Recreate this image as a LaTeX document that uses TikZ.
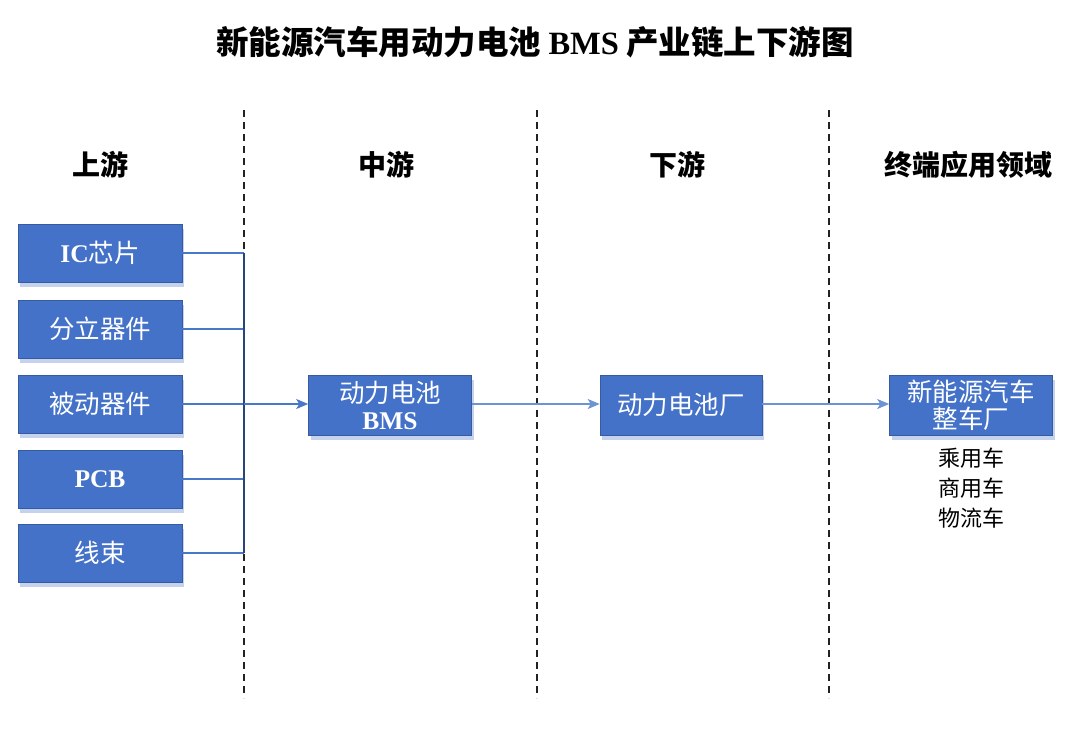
\documentclass[tikz,border=0pt]{standalone}
\usepackage{fontspec}
\setmainfont{Liberation Serif}
\newfontfamily\cjk{Noto Sans CJK SC}
\newfontfamily\lat{Liberation Serif}
\usetikzlibrary{shadows,arrows.meta}
\definecolor{boxblue}{HTML}{4472C8}
\definecolor{shadowblue}{HTML}{C4D2EE}
\definecolor{linkblue}{HTML}{4A78C8}
\definecolor{dashgray}{HTML}{222222}
\tikzset{
  bluebox/.style={draw=boxblue!80!black, line width=0.6pt, fill=boxblue, text=white,
    minimum width=164pt, minimum height=58pt, inner sep=0pt, align=center,
    font=\cjk\fontsize{25.5}{30}\selectfont,
    drop shadow={shadow xshift=2pt, shadow yshift=-5pt, fill=shadowblue, opacity=1}},
  sep/.style={dashgray, line width=1.2pt, dash pattern=on 7pt off 5pt},
  head/.style={font=\cjk\bfseries\fontsize{28}{32}\selectfont, text=black},
  feed/.style={linkblue, line width=1.3pt},
  flow/.style={linkblue!80, line width=1.4pt, -{Stealth[length=12pt,width=10pt,inset=3pt]}},
  sub/.style={font=\cjk\fontsize{22}{26}\selectfont, text=black}
}
\begin{document}
\begin{tikzpicture}[x=1pt,y=-1pt]
\useasboundingbox[fill=white] (0,0) rectangle (1080,729);
% title
\node[font=\cjk\bfseries\fontsize{32.5}{38}\selectfont] (title) at (535,42) {新能源汽车用动力电池 {\lat\bfseries BMS} 产业链上下游图};
% separators
\draw[sep] (244,110) -- (244,698);
\draw[sep] (537,110) -- (537,698);
\draw[sep] (829,110) -- (829,698);
% headers
\node[head] (h1) at (100,165) {上游};
\node[head] (h2) at (386,165) {中游};
\node[head] (h3) at (677,165) {下游};
\node[head] (h4) at (968,165) {终端应用领域};
% upstream boxes
\node[bluebox] (u1) at (100,253) {{\lat\bfseries IC}芯片};
\node[bluebox] (u2) at (100,329) {分立器件};
\node[bluebox] (u3) at (100,404) {被动器件};
\node[bluebox] (u4) at (100,479) {{\lat\bfseries PCB}};
\node[bluebox] (u5) at (100,553) {线束};
% mid boxes
\node[bluebox, minimum width=163pt, minimum height=60pt] (bms) at (390,405) {动力电池\\[-3pt]{\lat\bfseries BMS}};
\node[bluebox, minimum width=162pt, minimum height=60pt] (cell) at (681,405) {动力电池厂};
\node[bluebox, minimum width=163pt, minimum height=60pt] (oem) at (971,405) {新能源汽车\\[-3pt]整车厂};
% bus
\coordinate (b1) at (244,253);
\coordinate (b3) at (244,404);
\coordinate (b5) at (244,553);
\draw[feed] (u1.east) -- (b1);
\draw[feed] (u2.east) -- (244,329);
\draw[feed] (u3.east) -- (b3);
\draw[feed] (u4.east) -- (244,479);
\draw[feed] (u5.east) -- (b5);
\draw[feed, draw=boxblue!60!black] (b1) -- (b5);
\draw[flow, linkblue] (b3) -- (bms.west |- b3);
\draw[flow] (bms.east |- b3) -- (cell.west |- b3);
\draw[flow] (cell.east |- b3) -- (oem.west |- b3);
% end uses
\node[sub] (e1) at (971,458) {乘用车};
\node[sub] (e2) at (971,488) {商用车};
\node[sub] (e3) at (971,518) {物流车};
\end{tikzpicture}
\end{document}
